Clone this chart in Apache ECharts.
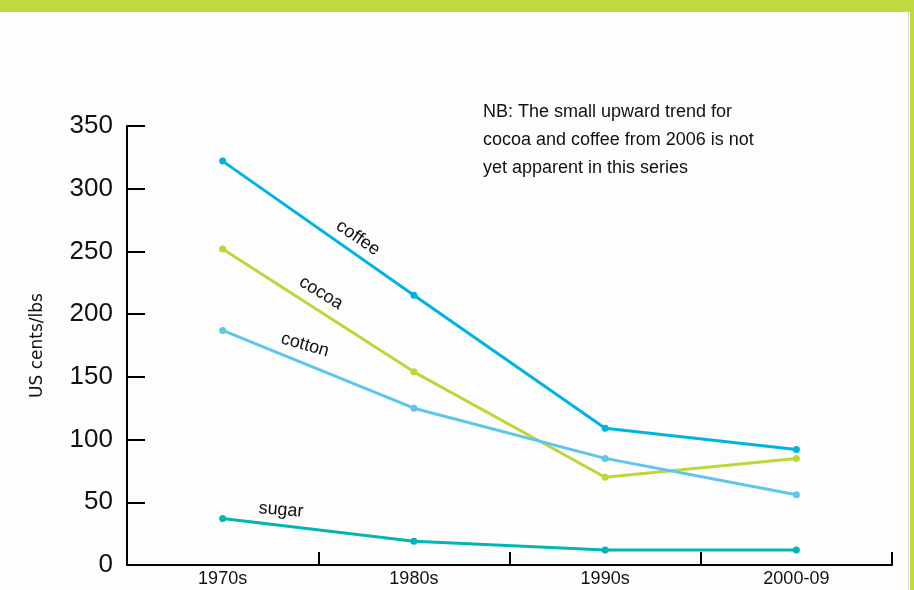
<!DOCTYPE html>
<html>
<head>
<meta charset="utf-8">
<script src="https://cdn.jsdelivr.net/npm/echarts@6/dist/echarts.min.js"></script>
<style>
html,body{margin:0;padding:0;background:#fdfdfd;}
#c{width:914px;height:590px;}
</style>
</head>
<body>
<div id="c"></div>
<script>
var categories = ['1970s', '1980s', '1990s', '2000-09'];
var coffee = [322, 215, 109, 92];
var cocoa = [252, 154, 70, 85];
var cotton = [187, 125, 85, 56];
var sugar = [37, 19, 12, 12];
var yTicks = [0, 50, 100, 150, 200, 250, 300, 350];

var chart = echarts.init(document.getElementById('c'));
function ser(name, data, color) {
  return {
    name: name, type: 'line', data: data, symbol: 'circle', symbolSize: 7,
    lineStyle: {color: color, width: 3}, itemStyle: {color: color},
    animation: false, z: 3
  };
}
var txt = {fontFamily: 'Liberation Sans, Arial, sans-serif', fontSize: 18, fill: '#111'};
chart.setOption({
  backgroundColor: '#fdfdfd',
  animation: false,
  grid: {left: 127, right: 22, top: 126, bottom: 25, containLabel: false},
  xAxis: {
    type: 'category', data: categories, boundaryGap: true,
    axisLine: {show: true, lineStyle: {color: '#000', width: 2}},
    axisTick: {show: true, interval: 0, inside: true, length: 13, lineStyle: {color: '#000', width: 2}},
    axisLabel: {color: '#111', fontSize: 18, margin: 5, fontFamily: 'Liberation Sans, sans-serif'},
    splitLine: {show: false}
  },
  yAxis: {
    type: 'value', min: 0, max: 350, interval: 50,
    name: 'US cents/lbs', nameLocation: 'middle', nameGap: 81, nameRotate: 90,
    nameTextStyle: {color: '#111', fontSize: 17, fontFamily: 'DejaVu Sans, sans-serif'},
    axisLine: {show: true, lineStyle: {color: '#000', width: 2}},
    axisTick: {show: true, inside: true, length: 18, lineStyle: {color: '#000', width: 2}},
    axisLabel: {color: '#111', fontSize: 26, margin: 14, fontFamily: 'Liberation Sans, Arial, sans-serif',
      formatter: function(v){ return yTicks.indexOf(v) >= 0 ? String(v) : ''; }},
    splitLine: {show: false}
  },
  series: [
    ser('coffee', coffee, '#00b4e1'),
    ser('cocoa', cocoa, '#bdd63a'),
    ser('cotton', cotton, '#5ec6e8'),
    ser('sugar', sugar, '#00b5b3')
  ],
  graphic: [
    {type: 'rect', left: 0, top: 0, shape: {width: 914, height: 12}, style: {fill: '#c0d93c'}, z: 10},
    {type: 'rect', left: 910, top: 0, shape: {width: 4, height: 590}, style: {fill: '#c0d93c'}, z: 10},
    {type: 'rect', left: 908, top: 12, shape: {width: 1, height: 578}, style: {fill: '#d8d8d8'}, z: 10},
    {type: 'text', x: 483, y: 98, style: Object.assign({}, txt, {text: 'NB: The small upward trend for\ncocoa and coffee from 2006 is not\nyet apparent in this series', lineHeight: 28})},
    {type: 'text', x: 358, y: 238, rotation: -0.6, style: Object.assign({}, txt, {text: 'coffee', align: 'center', verticalAlign: 'middle'})},
    {type: 'text', x: 321, y: 293, rotation: -0.55, style: Object.assign({}, txt, {text: 'cocoa', align: 'center', verticalAlign: 'middle'})},
    {type: 'text', x: 305, y: 345, rotation: -0.28, style: Object.assign({}, txt, {text: 'cotton', align: 'center', verticalAlign: 'middle'})},
    {type: 'text', x: 281, y: 510, rotation: -0.08, style: Object.assign({}, txt, {text: 'sugar', align: 'center', verticalAlign: 'middle'})}
  ]
});
</script>
</body>
</html>
